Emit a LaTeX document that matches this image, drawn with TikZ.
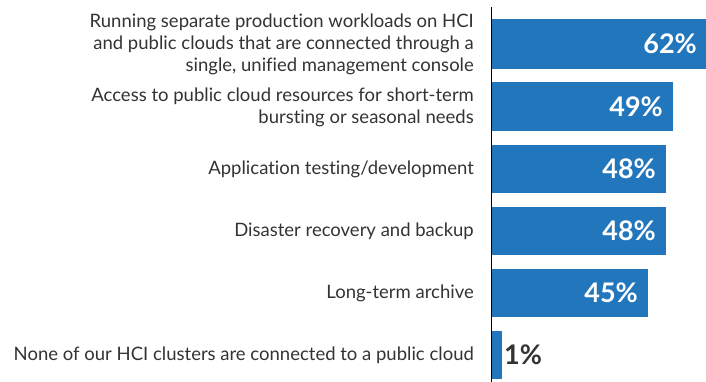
\documentclass[tikz,border=0pt]{standalone}
\usepackage{fontspec}
\setmainfont[Ligatures={NoCommon}]{Lato}
\definecolor{barblue}{HTML}{2176BC}
\definecolor{labgray}{HTML}{333333}
\begin{document}
\begin{tikzpicture}[x=1pt,y=-1pt,
  bar/.style={fill=barblue,draw=none},
  lab/.style={anchor=east,align=right,text=labgray,inner sep=0pt,
    font=\fontsize{18.5}{22}\selectfont},
  pct/.style={anchor=east,text=white,inner sep=0pt,
    font=\fontsize{27}{30}\selectfont\bfseries},
  pctout/.style={anchor=west,text=labgray,inner sep=0pt,
    font=\fontsize{27}{30}\selectfont\bfseries}]
\useasboundingbox (0,0) rectangle (706,382);
% bars
\fill[bar] (492,19) rectangle (706,69);
\fill[bar] (492,82) rectangle (673,131);
\fill[bar] (492,145) rectangle (666,193);
\fill[bar] (492,207) rectangle (666,255);
\fill[bar] (492,269) rectangle (648,317);
\fill[bar] (492,331) rectangle (502,379);
% axis
\coordinate (axtop) at (491.5,7);
\coordinate (axbot) at (491.5,382);
\draw[black,line width=1.3pt] (axtop) -- (axbot);
% labels
\node[lab] (l1) at (474,44) {Running separate production workloads on HCI\\and public clouds that are connected through a\\single, unified management console};
\node[lab] (l2) at (474,107) {Access to public cloud resources for short-term\\bursting or seasonal needs};
\node[lab] (l3) at (474,169) {Application testing/development};
\node[lab] (l4) at (474,231) {Disaster recovery and backup};
\node[lab] (l5) at (474,293) {Long-term archive};
\node[lab] (l6) at (474,355) {None of our HCI clusters are connected to a public cloud};
% values
\node[pct] (v1) at (697,44) {62\%};
\node[pct] (v2) at (663,107) {49\%};
\node[pct] (v3) at (656,169) {48\%};
\node[pct] (v4) at (656,231) {48\%};
\node[pct] (v5) at (638,293) {45\%};
\node[pctout] (v6) at (504,355) {1\%};
\end{tikzpicture}
\end{document}
